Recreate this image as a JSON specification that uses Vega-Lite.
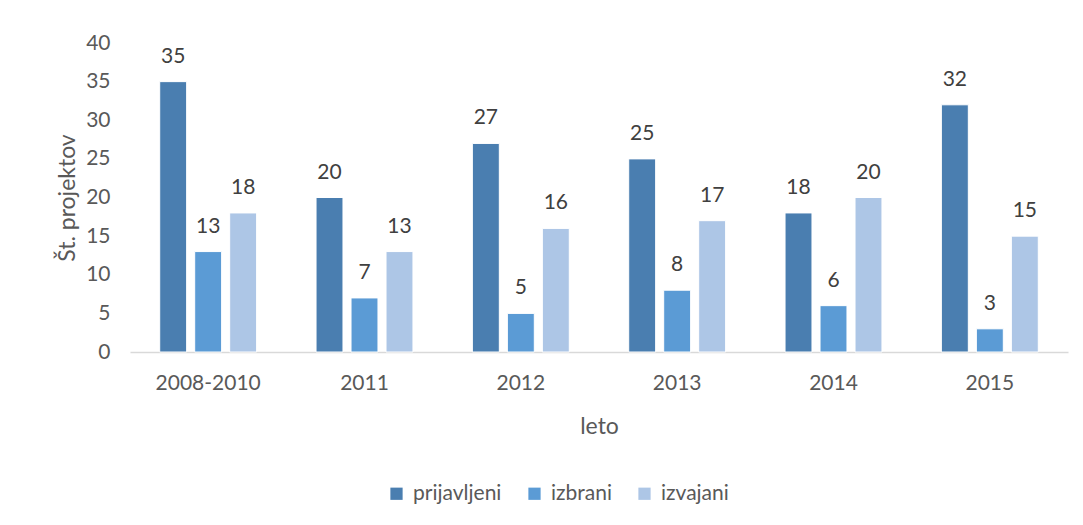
{
  "$schema": "https://vega.github.io/schema/vega-lite/v6.json",
  "width": 938,
  "height": 309,
  "autosize": "none",
  "padding": {"left": 130, "top": 43, "right": 15, "bottom": 173},
  "background": "white",
  "config": {"view": {"stroke": null}, "font": "Lato"},
  "data": {
    "values": [
      {"leto": "2008-2010", "serija": "prijavljeni", "vrednost": 35},
      {"leto": "2008-2010", "serija": "izbrani", "vrednost": 13},
      {"leto": "2008-2010", "serija": "izvajani", "vrednost": 18},
      {"leto": "2011", "serija": "prijavljeni", "vrednost": 20},
      {"leto": "2011", "serija": "izbrani", "vrednost": 7},
      {"leto": "2011", "serija": "izvajani", "vrednost": 13},
      {"leto": "2012", "serija": "prijavljeni", "vrednost": 27},
      {"leto": "2012", "serija": "izbrani", "vrednost": 5},
      {"leto": "2012", "serija": "izvajani", "vrednost": 16},
      {"leto": "2013", "serija": "prijavljeni", "vrednost": 25},
      {"leto": "2013", "serija": "izbrani", "vrednost": 8},
      {"leto": "2013", "serija": "izvajani", "vrednost": 17},
      {"leto": "2014", "serija": "prijavljeni", "vrednost": 18},
      {"leto": "2014", "serija": "izbrani", "vrednost": 6},
      {"leto": "2014", "serija": "izvajani", "vrednost": 20},
      {"leto": "2015", "serija": "prijavljeni", "vrednost": 32},
      {"leto": "2015", "serija": "izbrani", "vrednost": 3},
      {"leto": "2015", "serija": "izvajani", "vrednost": 15}
    ]
  },
  "encoding": {
    "x": {
      "field": "leto",
      "type": "nominal",
      "sort": null,
      "scale": {"paddingInner": 0.38, "paddingOuter": 0.19},
      "axis": {
        "title": "leto",
        "labelAngle": 0,
        "labelFontSize": 21,
        "labelColor": "#595959",
        "labelPadding": 20,
        "titleFontSize": 23,
        "titleFontWeight": "normal",
        "titleColor": "#595959",
        "titlePadding": 22,
        "ticks": false,
        "domainColor": "#d9d9d9",
        "domainWidth": 1.5
      }
    },
    "xOffset": {
      "field": "serija",
      "type": "nominal",
      "sort": ["prijavljeni", "izbrani", "izvajani"],
      "scale": {"paddingInner": 0.23}
    },
    "y": {
      "field": "vrednost",
      "type": "quantitative",
      "scale": {"domain": [0, 40]},
      "axis": {
        "title": "Št. projektov",
        "values": [0, 5, 10, 15, 20, 25, 30, 35, 40],
        "grid": false,
        "domain": false,
        "ticks": false,
        "labelFontSize": 21,
        "labelColor": "#595959",
        "labelPadding": 20,
        "titleFontSize": 23,
        "titleFontWeight": "normal",
        "titleColor": "#595959",
        "titlePadding": 6
      }
    }
  },
  "layer": [
    {
      "mark": {"type": "bar", "stroke": "white", "strokeWidth": 1},
      "encoding": {
        "color": {
          "field": "serija",
          "type": "nominal",
          "scale": {
            "domain": ["prijavljeni", "izbrani", "izvajani"],
            "range": ["#4a7eb0", "#5b9bd5", "#adc6e6"]
          },
          "legend": {
            "title": null,
            "orient": "none",
            "direction": "horizontal",
            "legendX": 256,
            "legendY": 440,
            "symbolType": "square",
            "symbolSize": 150,
            "symbolStrokeWidth": 0,
            "labelFontSize": 21,
            "labelColor": "#595959",
            "labelOffset": 6,
            "columnPadding": 22
          }
        }
      }
    },
    {
      "mark": {"type": "text", "baseline": "alphabetic", "dy": -19, "fontSize": 21, "color": "#404040"},
      "encoding": {
        "text": {"field": "vrednost", "type": "quantitative"}
      }
    }
  ]
}
